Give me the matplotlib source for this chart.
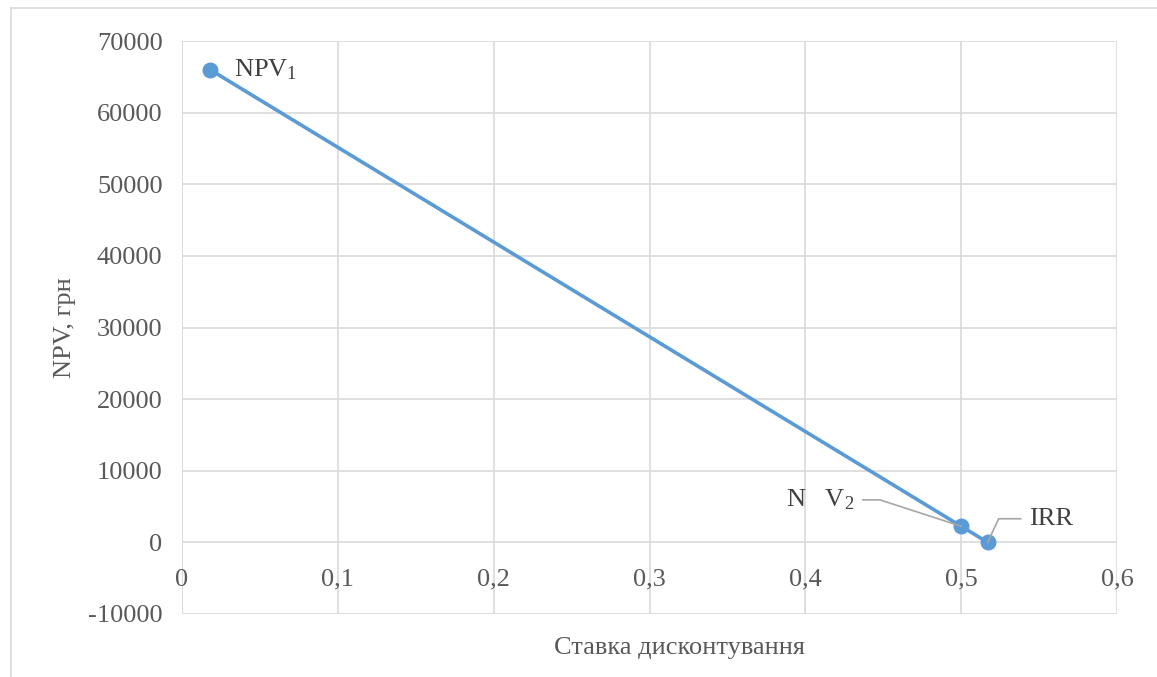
import matplotlib
matplotlib.use("Agg")
import matplotlib.pyplot as plt
from matplotlib.lines import Line2D

plt.rcParams['font.family'] = ['Liberation Serif', 'DejaVu Serif']
plt.rcParams['mathtext.fontset'] = 'custom'
plt.rcParams['mathtext.rm'] = 'Liberation Serif'
plt.rcParams['mathtext.default'] = 'regular'

rates = [0.018, 0.50, 0.517]
npv = [66000, 2250, 0]
point_labels = ['NPV$_1$', 'N   V$_2$', 'IRR']
xticks = [0, 0.1, 0.2, 0.3, 0.4, 0.5, 0.6]
xticklabels = ['0', '0,1', '0,2', '0,3', '0,4', '0,5', '0,6']
yticks = list(range(-10000, 70001, 10000))

W, H = 1157, 677
FS = 19
fig = plt.figure(figsize=(W / 100, H / 100), dpi=100)
ax = fig.add_axes([182 / W, 1 - 614 / H, (1117 - 182) / W, (614 - 41) / H])

grid_c = '#d9d9d9'
text_c = '#595959'
blue = '#5b9bd5'

ax.set_xlim(0, 0.6)
ax.set_ylim(-10000, 70000)
ax.set_xticks(xticks)
ax.set_yticks(yticks)
ax.set_yticklabels([str(v) for v in yticks])
ax.grid(True, color=grid_c, linewidth=1.2)
ax.set_axisbelow(True)
for s in ax.spines.values():
    s.set_visible(False)
ax.axvline(0, color=grid_c, lw=1.2, zorder=0.5)
ax.tick_params(axis='y', length=0, pad=14, labelsize=FS, labelcolor=text_c)
ax.tick_params(axis='x', length=0, labelbottom=False)
for xv, lab in zip(xticks, xticklabels):
    ax.annotate(lab, xy=(xv, 0), xytext=(0, -19), textcoords='offset points',
                ha='center', va='top', fontsize=FS, color=text_c)

ax.plot(rates, npv, color=blue, lw=2.6, marker='o', markersize=10.5, zorder=3,
        clip_on=False)

# labels
ax.annotate(point_labels[0], xy=(rates[0], npv[0]), xytext=(17, 0),
            textcoords='offset points', ha='left', va='center', fontsize=FS,
            color='#404040')
lead = '#a6a6a6'
ax.annotate(point_labels[1], xy=(rates[1], npv[1]), xytext=(-77, 19),
            textcoords='offset points', ha='right', va='center', fontsize=FS,
            color='#404040',
            arrowprops=dict(arrowstyle='-', color=lead, lw=1.2,
                            connectionstyle='angle,angleA=0,angleB=162,rad=0',
                            shrinkA=4, shrinkB=0))
ax.annotate(point_labels[2], xy=(rates[2], npv[2]), xytext=(30, 17),
            textcoords='offset points', ha='left', va='center', fontsize=FS,
            color='#404040',
            arrowprops=dict(arrowstyle='-', color=lead, lw=1.2,
                            connectionstyle='angle,angleA=0,angleB=65,rad=0',
                            shrinkA=4, shrinkB=0))

fig.text(65 / W, 1 - 328 / H, 'NPV, грн', rotation=90, ha='center', va='center',
         fontsize=FS, color=text_c)
fig.text(680 / W, 1 - 648 / H, 'Ставка дисконтування', ha='center', va='center',
         fontsize=FS, color=text_c)

# chart area border (left and top visible)
fig.add_artist(Line2D([11 / W, 11 / W], [0, 1 - 8 / H], transform=fig.transFigure,
                      color='#d9d9d9', lw=1.2))
fig.add_artist(Line2D([11 / W, 1], [1 - 8 / H, 1 - 8 / H], transform=fig.transFigure,
                      color='#d9d9d9', lw=1.2))

fig.savefig('out.png', dpi=100)
